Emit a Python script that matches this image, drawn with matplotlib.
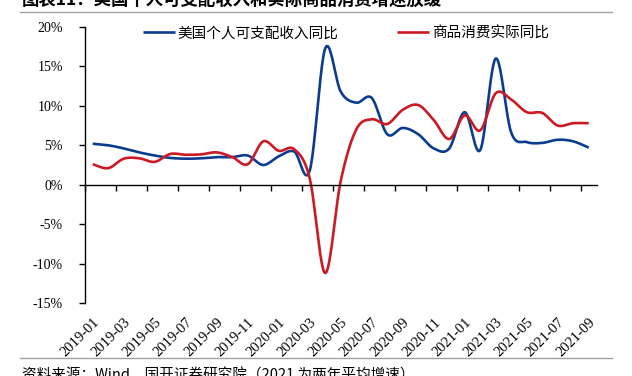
import matplotlib.pyplot as plt
import numpy as np

# monthly data, 2019-01 .. 2021-09 (percent)
months = ["2019-01", "2019-02", "2019-03", "2019-04", "2019-05", "2019-06",
          "2019-07", "2019-08", "2019-09", "2019-10", "2019-11", "2019-12",
          "2020-01", "2020-02", "2020-03", "2020-04", "2020-05", "2020-06",
          "2020-07", "2020-08", "2020-09", "2020-10", "2020-11", "2020-12",
          "2021-01", "2021-02", "2021-03", "2021-04", "2021-05", "2021-06",
          "2021-07", "2021-08", "2021-09"]
income = [5.2, 5.0, 4.6, 4.1, 3.7, 3.4, 3.3, 3.35, 3.5, 3.5, 3.7, 2.5,
          3.6, 4.2, 1.8, 17.3, 11.8, 10.4, 11.0, 6.4, 7.2, 6.4, 4.6, 4.6,
          9.2, 4.4, 16.0, 6.6, 5.4, 5.3, 5.7, 5.5, 4.7]
goods = [2.6, 2.1, 3.3, 3.35, 2.9, 3.9, 3.8, 3.85, 4.1, 3.5, 2.6, 5.5,
         4.3, 4.5, 0.8, -11.2, 0.5, 7.0, 8.3, 7.7, 9.5, 10.1, 8.2, 5.8,
         8.8, 6.9, 11.6, 10.8, 9.2, 9.1, 7.5, 7.8, 7.8]
label_income = "美国个人可支配收入同比"
label_goods = "商品消费实际同比"

plt.rcParams['font.family'] = ['Noto Sans CJK SC', 'DejaVu Sans']


# Excel-style smoothed line (Bezier through the points)
def smooth(y, n=24):
    y = np.asarray(y, dtype=float)
    x = np.arange(len(y), dtype=float)
    xs, ys = [], []
    t = np.linspace(0, 1, n, endpoint=False)
    for i in range(len(y) - 1):
        i0 = max(i - 1, 0)
        i3 = min(i + 2, len(y) - 1)
        for arr, out in ((x, xs), (y, ys)):
            p0, p1, p2, p3 = arr[i0], arr[i], arr[i + 1], arr[i3]
            c1 = p1 + (p2 - p0) / 6
            c2 = p2 - (p3 - p1) / 6
            out.extend((1 - t) ** 3 * p1 + 3 * (1 - t) ** 2 * t * c1
                       + 3 * (1 - t) * t ** 2 * c2 + t ** 3 * p2)
    xs.append(x[-1])
    ys.append(y[-1])
    return np.array(xs), np.array(ys)


fig = plt.figure(figsize=(6.32, 3.76), dpi=100)
ax = fig.add_axes([85 / 632, 1 - 303 / 376, 511.5 / 632, 276 / 376])

blue = '#0b3d8e'
red = '#cc1a24'
xb, yb = smooth(income)
xr, yr = smooth(goods)
ax.plot(xb, yb, color=blue, lw=1.9, label=label_income, solid_capstyle='butt')
ax.plot(xr, yr, color=red, lw=1.9, label=label_goods, solid_capstyle='butt')

ax.set_xlim(-0.5, len(months) - 0.5)
ax.set_ylim(-15, 20)

# y axis
ax.set_yticks(np.arange(-15, 21, 5))
ax.set_yticklabels([f"{v}%" for v in range(-15, 21, 5)],
                   family='Liberation Serif', fontsize=10)
ax.tick_params(axis='y', direction='out', length=4, width=1, pad=12)

# x axis line at zero, labels at the bottom
ax.spines['bottom'].set_position(('data', 0))
ax.set_xticks(np.arange(-0.5, len(months), 2))
ax.tick_params(axis='x', direction='out', length=4, width=1, labelbottom=False)
for sp in ['top', 'right']:
    ax.spines[sp].set_visible(False)
for sp in ['left', 'bottom']:
    ax.spines[sp].set_linewidth(1)

sec = ax.secondary_xaxis(0)
sec.spines['bottom'].set_visible(False)
sec.set_xticks(range(0, len(months), 2))
sec.set_xticklabels(months[::2], rotation=45, ha='right', va='top',
                    rotation_mode='anchor', family='Liberation Serif',
                    fontsize=10.5)
sec.tick_params(axis='x', length=0, pad=9)

ax.legend(loc='upper center', bbox_to_anchor=(0.51, 1.05), ncol=2,
          frameon=False, fontsize=10.5, handlelength=2.2, handletextpad=0.2,
          columnspacing=4.0)

# header / footer (cut by the image edges, as in the source)
fig.text(22 / 632, 1.0, "图表11：美国个人可支配收入和实际商品消费增速放缓",
         fontsize=12.5, fontweight='bold', va='center', ha='left')
fig.add_artist(plt.Line2D([20 / 632, 612 / 632], [1 - 12 / 376] * 2,
                          color='#a0a0a0', lw=1))
fig.add_artist(plt.Line2D([20 / 632, 612 / 632], [1 - 358 / 376] * 2,
                          color='#a0a0a0', lw=1))
fig.text(22 / 632, 1 - 375 / 376, "资料来源：Wind，国开证券研究院（2021 为两年平均增速）",
         fontsize=10.5, va='center', ha='left')

fig.savefig('out.png', dpi=100)
